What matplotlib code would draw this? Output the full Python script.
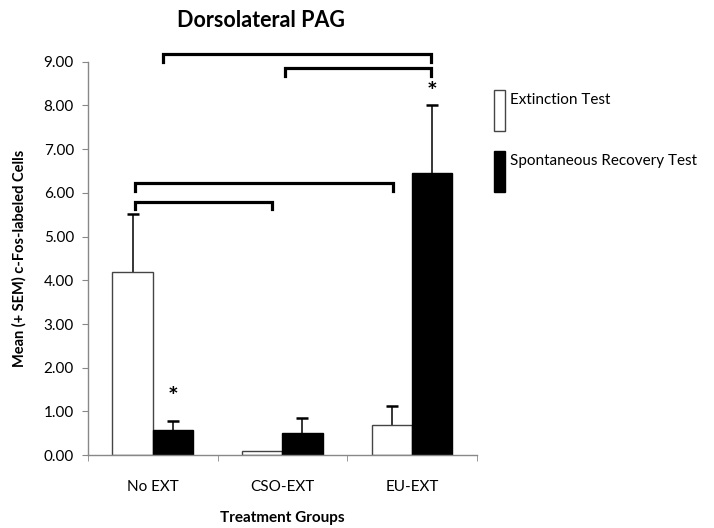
import matplotlib
matplotlib.use("Agg")
import matplotlib.pyplot as plt
from matplotlib.patches import Rectangle
from matplotlib.legend_handler import HandlerPatch
from matplotlib.container import BarContainer
import numpy as np

plt.rcParams['font.family'] = ['Lato', 'DejaVu Sans']

categories = ["No EXT", "CSO-EXT", "EU-EXT"]
ext_test = [4.20, 0.10, 0.68]
ext_err = [1.32, 0.0, 0.44]
sr_test = [0.58, 0.50, 6.45]
sr_err = [0.20, 0.36, 1.55]
series_names = ["Extinction Test", "Spontaneous Recovery Test"]
y_ticks = [0, 1, 2, 3, 4, 5, 6, 7, 8, 9]
# significance brackets: (x_start, x_end, y_level)
brackets = [(0.077, 2.147, 9.17), (1.023, 2.147, 8.85), (-0.139, 1.853, 6.22), (-0.139, 0.923, 5.80)]
# asterisks: (category index, series index, y)
stars = [(0, 1, 1.33), (2, 1, 8.30)]

fig = plt.figure(figsize=(7.14, 5.28), dpi=100)
ax = fig.add_axes([0.123, 0.138, 0.545, 0.745])

x = np.arange(len(categories))
w = 0.31
b1 = ax.bar(x - w / 2, ext_test, w, color="white", edgecolor="#444444", linewidth=1.0, label=series_names[0], zorder=2)
b2 = ax.bar(x + w / 2, sr_test, w, color="black", edgecolor="black", linewidth=1.0, label=series_names[1], zorder=2)


def up_errorbars(xpos, vals, errs):
    xpos = np.asarray(xpos)
    vals = np.asarray(vals)
    errs = np.asarray(errs)
    m = errs > 0
    cont = ax.errorbar(xpos[m], vals[m], yerr=[np.zeros(m.sum()), errs[m]], fmt="none", ecolor="black",
                       elinewidth=1.1, capsize=4.5, capthick=1.8, zorder=1)
    caps = cont[1]
    if len(caps) >= 2:
        caps[0].set_visible(False)


up_errorbars(x - w / 2, ext_test, ext_err)
up_errorbars(x + w / 2, sr_test, sr_err)

ax.set_xlim(-0.5, 2.5)
ax.set_ylim(0, 9)
ax.set_yticks(y_ticks)
ax.set_yticklabels([f"{v:.2f}" for v in y_ticks], fontsize=11)
ax.set_xticks(x)
ax.set_xticklabels(categories, fontsize=11)
ax.set_xticks([-0.5, 0.5, 1.5, 2.5], minor=True)
ax.tick_params(axis="x", which="major", length=0, pad=18)
ax.tick_params(axis="x", which="minor", length=4, color="#888888", direction="out")
ax.tick_params(axis="y", length=4, color="#888888", direction="out", pad=6)
for s in ["top", "right"]:
    ax.spines[s].set_visible(False)
for s in ["left", "bottom"]:
    ax.spines[s].set_color("#888888")
    ax.spines[s].set_linewidth(1.0)

ax.set_xlabel("Treatment Groups", fontsize=11, fontweight="bold", labelpad=12)
ax.set_ylabel("Mean (+ SEM) c-Fos-labeled Cells", fontsize=10.5, fontweight="bold", labelpad=12)
fig.text(0.365, 0.962, "Dorsolateral PAG", fontsize=15.5, fontweight="bold", ha="center", va="center")

drop = 0.17
for x0, x1, yv in brackets:
    ax.plot([x0, x0, x1, x1], [yv - drop, yv, yv, yv - drop], color="black", lw=2.3, clip_on=False,
            solid_joinstyle="miter", zorder=3)

for ci, si, yv in stars:
    xs = ci + (w / 2 if si == 1 else -w / 2)
    ax.text(xs, yv, "*", ha="center", va="center", fontsize=18, fontweight="bold", clip_on=False)


def tall_rect(legend, orig_handle, xdescent, ydescent, width, height, fontsize):
    extra = 1.75 * fontsize
    return Rectangle((-xdescent, -ydescent - extra + 0.1 * fontsize), width, height + extra)


def copy_style(legend_handle, orig_handle):
    src = orig_handle.patches[0]
    legend_handle.set_facecolor(src.get_facecolor())
    legend_handle.set_edgecolor(src.get_edgecolor())
    legend_handle.set_linewidth(src.get_linewidth())


leg = ax.legend(handles=[b1, b2], labels=series_names, loc="upper left", bbox_to_anchor=(0.673, 0.852),
                bbox_transform=fig.transFigure, frameon=False, fontsize=11,
                handlelength=0.7, handleheight=1.0, handletextpad=0.3, labelspacing=3.0,
                handler_map={BarContainer: HandlerPatch(patch_func=tall_rect, update_func=copy_style)})

fig.savefig("out.png", dpi=100)
